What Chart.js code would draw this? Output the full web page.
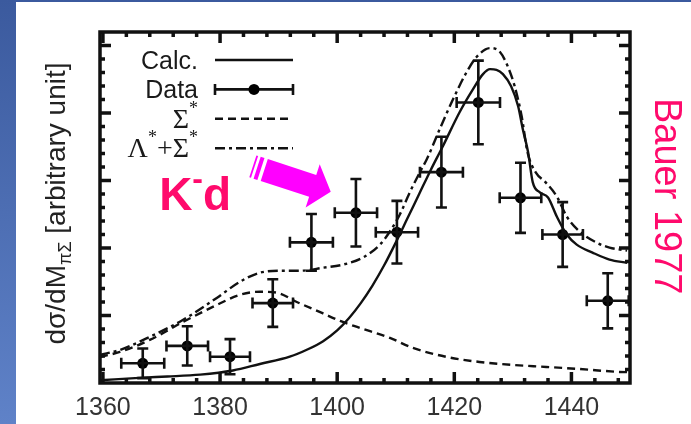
<!DOCTYPE html>
<html>
<head>
<meta charset="utf-8">
<title>K- d  pi Sigma mass spectrum</title>
<script src="https://cdn.jsdelivr.net/npm/chart.js@4.4.0/dist/chart.umd.min.js"></script>
<style>
  html, body { margin: 0; padding: 0; background: #fff; }
  canvas { display: block; }
</style>
</head>
<body>
<canvas id="spectrum" width="691" height="424"></canvas>
<script>
// dsigma/dM(pi Sigma) for K- d, Bauer 1977 data against the calculation

var xTicks = [1360, 1380, 1400, 1420, 1440];

// measured points (MeV, arbitrary units)
var dataM    = [1366.8, 1374.4, 1381.7, 1389.0, 1395.6, 1403.2, 1410.2, 1417.8, 1424.1, 1431.3, 1438.5, 1446.2];
var dataVal  = [1.46, 2.75, 1.95, 5.92, 10.42, 12.61, 11.17, 15.62, 20.78, 13.72, 11.00, 6.09];
var dataErrY = [1.10, 1.45, 1.30, 1.76, 2.10, 2.50, 2.32, 2.62, 3.10, 2.60, 2.40, 2.04];
var dataErrX = [3.67, 3.55, 3.41, 3.46, 3.67, 3.61, 3.61, 3.67, 3.70, 3.55, 3.46, 3.58];

// full calculation
var calcM   = [1359.5, 1366.9, 1371.0, 1376.6, 1382.2, 1386.8, 1391.9, 1395.0, 1397.6, 1400.0, 1402.0, 1404.0, 1406.0, 1408.0, 1410.0, 1412.0, 1414.0, 1416.0, 1418.0, 1420.9, 1423.2, 1424.9, 1426.1, 1427.2, 1428.3, 1429.7, 1430.9, 1431.7, 1432.6, 1433.4, 1434.6, 1436.0, 1437.5, 1439.2, 1440.9, 1443.6, 1446.5, 1449.5];
var calcVal = [0.20, 0.40, 0.48, 0.62, 0.93, 1.41, 1.95, 2.50, 3.10, 3.90, 4.80, 5.90, 7.20, 8.70, 10.40, 12.20, 14.00, 15.80, 17.50, 20.06, 21.77, 22.88, 23.25, 23.20, 22.88, 21.98, 20.50, 18.80, 17.09, 14.86, 14.12, 13.74, 12.33, 11.00, 10.25, 9.66, 9.14, 8.90];

// Sigma* contribution only
var sigM   = [1359.5, 1362.9, 1368.0, 1373.7, 1379.5, 1383.4, 1386.8, 1389.7, 1393.1, 1397.6, 1400.5, 1403.4, 1409.0, 1412.9, 1418.7, 1424.3, 1429.9, 1435.7, 1441.3, 1448.2, 1450.0];
var sigVal = [1.93, 2.30, 3.19, 4.53, 5.79, 6.54, 6.76, 6.69, 6.00, 5.15, 4.60, 4.15, 3.34, 2.60, 1.93, 1.56, 1.34, 1.19, 1.04, 0.82, 0.80];

// Lambda* + Sigma*
var lamM   = [1359.5, 1362.9, 1368.0, 1373.7, 1379.5, 1383.4, 1386.8, 1390.8, 1393.7, 1397.6, 1401.0, 1404.4, 1407.3, 1409.0, 1410.7, 1412.4, 1414.1, 1415.3, 1417.5, 1419.8, 1422.1, 1423.8, 1426.1, 1427.8, 1429.1, 1430.3, 1431.5, 1432.5, 1433.9, 1435.6, 1437.5, 1439.2, 1441.4, 1444.3, 1446.5, 1449.5];
var lamVal = [2.08, 2.45, 3.42, 4.68, 6.32, 7.50, 8.17, 8.32, 8.32, 8.54, 8.77, 9.29, 10.25, 11.22, 12.48, 14.12, 15.60, 16.57, 18.80, 21.03, 23.03, 24.15, 24.81, 24.52, 23.48, 21.99, 19.76, 17.09, 15.60, 14.86, 13.82, 12.33, 11.22, 10.40, 10.03, 9.81];

var sansFont = '"Liberation Sans", Arial, Helvetica, sans-serif';
var serifFont = '"Liberation Serif", "Times New Roman", serif';
var ink = '#111';
var pink = '#ff0a6c';

function zip(xs, ys) {
	return xs.map(function (x, i) { return { x: x, y: ys[i] }; });
}

// label text -> runs; '*' is raised, labels with Greek letters use a serif face
function splitLabel(text) {
	var serif = /[\u0370-\u03ff]/.test(text);
	var parts = [];
	text.split(/(\*)/).forEach(function (t) {
		if (!t) return;
		if (t === '*') parts.push({ t: '*', font: '18px ' + serifFont, dy: -14 });
		else parts.push({ t: t, font: serif ? '28px ' + serifFont : '25px ' + sansFont, dy: 0 });
	});
	return parts;
}

function drawParts(ctx, parts, x, y, align) {
	var w = 0;
	parts.forEach(function (p) { ctx.font = p.font; p.w = ctx.measureText(p.t).width; w += p.w; });
	var cx = align === 'right' ? x - w : (align === 'center' ? x - w / 2 : x);
	ctx.textAlign = 'left';
	ctx.textBaseline = 'alphabetic';
	parts.forEach(function (p) { ctx.font = p.font; ctx.fillText(p.t, cx, y + p.dy); cx += p.w; });
}

function errorBar(ctx, x, y, x0, x1, y0, y1, cap) {
	ctx.beginPath();
	ctx.moveTo(x0, y); ctx.lineTo(x1, y);
	ctx.moveTo(x0, y - cap); ctx.lineTo(x0, y + cap);
	ctx.moveTo(x1, y - cap); ctx.lineTo(x1, y + cap);
	if (y0 !== null) {
		ctx.moveTo(x, y0); ctx.lineTo(x, y1);
		ctx.moveTo(x - cap, y0); ctx.lineTo(x + cap, y0);
		ctx.moveTo(x - cap, y1); ctx.lineTo(x + cap, y1);
	}
	ctx.stroke();
}

var backdrop = {
	id: 'backdrop',
	beforeDraw: function (chart) {
		var ctx = chart.ctx, w = chart.width, h = chart.height;
		ctx.save();
		ctx.fillStyle = '#fff';
		ctx.fillRect(0, 0, w, h);
		var g = ctx.createLinearGradient(0, 0, 0, h);
		g.addColorStop(0, '#3b5a9e');
		g.addColorStop(1, '#5f82c8');
		ctx.fillStyle = g;
		ctx.fillRect(0, 0, 16, h);
		ctx.fillRect(0, 0, w, 2);
		ctx.restore();
	}
};

var errorBars = {
	id: 'errorBars',
	afterDatasetsDraw: function (chart) {
		var ctx = chart.ctx, sx = chart.scales.x, sy = chart.scales.y;
		ctx.save();
		ctx.strokeStyle = ink;
		ctx.lineWidth = 2.6;
		chart.data.datasets.forEach(function (ds) {
			if (!ds.errX) return;
			ds.data.forEach(function (p, j) {
				errorBar(ctx, sx.getPixelForValue(p.x), sy.getPixelForValue(p.y),
					sx.getPixelForValue(p.x - ds.errX[j]), sx.getPixelForValue(p.x + ds.errX[j]),
					sy.getPixelForValue(p.y + ds.errY[j]), sy.getPixelForValue(p.y - ds.errY[j]), 5.5);
			});
		});
		ctx.restore();
	}
};

// box frame with inward ticks on all four sides
var frame = {
	id: 'frame',
	afterDatasetsDraw: function (chart) {
		var ctx = chart.ctx, a = chart.chartArea, sx = chart.scales.x, sy = chart.scales.y;
		ctx.save();
		ctx.strokeStyle = ink;
		ctx.lineWidth = 3.5;
		ctx.beginPath();
		var v, p, len;
		for (v = 1360; v < sx.max; v += 4) {
			len = (v - 1360) % 20 === 0 ? 11 : 5;
			p = sx.getPixelForValue(v);
			ctx.moveTo(p, a.bottom); ctx.lineTo(p, a.bottom - len);
			ctx.moveTo(p, a.top); ctx.lineTo(p, a.top + len);
		}
		for (v = 1; v < sy.max; v++) {
			len = v % 5 === 0 ? 11 : 5;
			p = sy.getPixelForValue(v);
			ctx.moveTo(a.left, p); ctx.lineTo(a.left + len, p);
			ctx.moveTo(a.right, p); ctx.lineTo(a.right - len, p);
		}
		ctx.stroke();
		ctx.strokeRect(a.left, a.top, a.right - a.left, a.bottom - a.top);
		ctx.restore();
	}
};

// legend in the upper left corner: right-aligned text, sample line to its right
var boxLegend = {
	id: 'boxLegend',
	afterDraw: function (chart) {
		var ctx = chart.ctx, a = chart.chartArea;
		var textRight = a.left + 98, x0 = a.left + 115, x1 = a.left + 193;
		ctx.save();
		chart.data.datasets.forEach(function (ds, i) {
			var y = a.top + 28 + i * 29.4;
			ctx.fillStyle = '#1a1a1a';
			drawParts(ctx, splitLabel(ds.label), textRight, y + 9, 'right');
			ctx.strokeStyle = ink;
			ctx.lineWidth = 2.6;
			if (ds.errX) {
				errorBar(ctx, 0, y, x0, x1, null, null, 5.5);
				ctx.fillStyle = '#000';
				ctx.beginPath();
				ctx.arc((x0 + x1) / 2, y, ds.pointRadius, 0, Math.PI * 2);
				ctx.fill();
			} else {
				ctx.setLineDash(ds.borderDash || []);
				ctx.beginPath();
				ctx.moveTo(x0, y); ctx.lineTo(x1, y);
				ctx.stroke();
				ctx.setLineDash([]);
			}
		});
		ctx.restore();
	}
};

// axis title, reaction label, arrow and reference
var notes = {
	id: 'notes',
	afterDraw: function (chart) {
		var ctx = chart.ctx, a = chart.chartArea, sx = chart.scales.x, sy = chart.scales.y;
		ctx.save();

		// y title, read bottom to top
		ctx.translate(a.left - 45, (a.top + a.bottom) / 2 - 4);
		ctx.rotate(-Math.PI / 2);
		ctx.fillStyle = '#222';
		drawParts(ctx, [
			{ t: 'd\u03c3/dM', font: '28px ' + sansFont, dy: 0 },
			{ t: '\u03c0\u03a3', font: '18px ' + sansFont, dy: 6 },
			{ t: ' [arbitrary unit]', font: '28px ' + sansFont, dy: 0 }
		], 0, 10, 'center');
		ctx.setTransform(1, 0, 0, 1, 0, 0);

		// K- d
		ctx.fillStyle = pink;
		drawParts(ctx, [
			{ t: 'K', font: 'bold 46px ' + sansFont, dy: 0 },
			{ t: '-', font: 'bold 32px ' + sansFont, dy: -21 },
			{ t: 'd', font: 'bold 46px ' + sansFont, dy: 0 }
		], sx.getPixelForValue(1369.6), sy.getPixelForValue(12.78), 'left');

		// striped arrow pointing at the 1400 MeV region
		var t0x = sx.getPixelForValue(1385.6), t0y = sy.getPixelForValue(16.05);
		var t1x = sx.getPixelForValue(1398.9), t1y = sy.getPixelForValue(14.17);
		var len = Math.hypot(t1x - t0x, t1y - t0y);
		ctx.translate(t0x, t0y);
		ctx.rotate(Math.atan2(t1y - t0y, t1x - t0x));
		ctx.fillStyle = '#ff00ff';
		ctx.fillRect(0, -11.5, 1.8, 23);
		ctx.fillRect(4.5, -11.5, 4, 23);
		ctx.beginPath();
		ctx.moveTo(12, -11.5);
		ctx.lineTo(len - 19, -11.5);
		ctx.lineTo(len - 19, -22.7);
		ctx.lineTo(len, 0);
		ctx.lineTo(len - 19, 22.7);
		ctx.lineTo(len - 19, 11.5);
		ctx.lineTo(12, 11.5);
		ctx.closePath();
		ctx.fill();
		ctx.setTransform(1, 0, 0, 1, 0, 0);

		// reference, read top to bottom
		ctx.translate(a.right + 25, a.top + 66);
		ctx.rotate(Math.PI / 2);
		ctx.fillStyle = pink;
		ctx.font = '38px ' + sansFont;
		ctx.textAlign = 'left';
		ctx.textBaseline = 'alphabetic';
		ctx.fillText('Bauer 1977', 0, 0);
		ctx.restore();
	}
};

var ctx = document.getElementById('spectrum');
var chart = new Chart(ctx, {
	type: 'scatter',
	data: {
		datasets: [{
			label: 'Calc.',
			type: 'line',
			data: zip(calcM, calcVal),
			borderColor: ink,
			borderWidth: 2.4,
			pointRadius: 0,
			cubicInterpolationMode: 'monotone'
		}, {
			label: 'Data',
			type: 'scatter',
			data: zip(dataM, dataVal),
			errX: dataErrX,
			errY: dataErrY,
			pointRadius: 5.5,
			backgroundColor: '#000',
			borderColor: '#000',
			borderWidth: 0
		}, {
			label: '\u03a3*',
			type: 'line',
			data: zip(sigM, sigVal),
			borderColor: ink,
			borderWidth: 2.4,
			borderDash: [8, 5],
			pointRadius: 0,
			cubicInterpolationMode: 'monotone'
		}, {
			label: '\u039b*+\u03a3*',
			type: 'line',
			data: zip(lamM, lamVal),
			borderColor: ink,
			borderWidth: 2.4,
			borderDash: [10, 4, 3, 4],
			pointRadius: 0,
			cubicInterpolationMode: 'monotone'
		}]
	},
	options: {
		responsive: false,
		animation: false,
		devicePixelRatio: 1,
		layout: { padding: { left: 100, right: 61, top: 32, bottom: 1 } },
		plugins: {
			legend: { display: false },
			tooltip: { enabled: false }
		},
		scales: {
			x: {
				type: 'linear',
				min: 1359.5,
				max: 1450,
				afterBuildTicks: function (axis) {
					axis.ticks = xTicks.map(function (v) { return { value: v }; });
				},
				afterFit: function (axis) {
					axis.height = 40;
				},
				grid: { display: false, drawTicks: false },
				border: { display: false },
				ticks: {
					color: '#333',
					padding: 10,
					autoSkip: false,
					maxRotation: 0,
					font: { family: sansFont, size: 25 },
					callback: function (v) { return String(v); }
				}
			},
			y: {
				type: 'linear',
				min: 0,
				max: 26,
				display: false
			}
		}
	},
	plugins: [backdrop, errorBars, frame, boxLegend, notes]
});
</script>
</body>
</html>
